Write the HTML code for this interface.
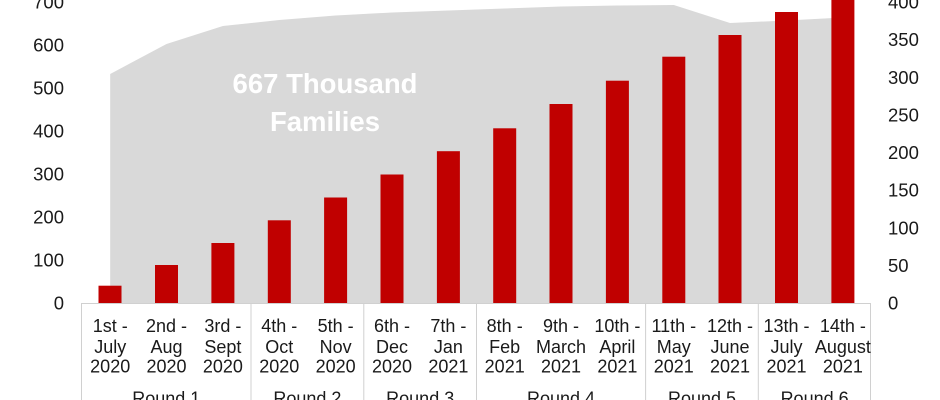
<!DOCTYPE html>
<html>
<head>
<meta charset="utf-8">
<style>
  html,body{margin:0;padding:0;background:#fff;}
  svg{display:block;}
  text{font-family:"Liberation Sans",Arial,sans-serif;fill:#1a1a1a;}
</style>
</head>
<body>
<svg width="940" height="400" viewBox="0 0 940 400" xmlns="http://www.w3.org/2000/svg">
  <!-- area -->
  <polygon fill="#d9d9d9" points="110.2,303.5 110.2,74 166.5,44 222.9,26 279.3,20 335.6,15.5 392,12.5 448.4,10.5 504.7,8.5 561,6.5 617.4,5.5 673.8,5 730,23 786.5,20.5 842.9,17.5 842.9,303.5"/>

  <!-- area label -->
  <text x="325" y="93" text-anchor="middle" style="font-weight:bold;font-size:27.5px;fill:#ffffff">667 Thousand</text>
  <text x="325" y="131" text-anchor="middle" style="font-weight:bold;font-size:27.5px;fill:#ffffff">Families</text>

  <!-- bars -->
  <g fill="#c00000">
    <rect x="98.5" y="285.7" width="23" height="17.8"/>
    <rect x="155" y="265" width="23" height="38.5"/>
    <rect x="211.4" y="243" width="23" height="60.5"/>
    <rect x="267.8" y="220.3" width="23" height="83.2"/>
    <rect x="324.1" y="197.5" width="23" height="106"/>
    <rect x="380.5" y="174.5" width="23" height="129"/>
    <rect x="436.9" y="151.2" width="23" height="152.3"/>
    <rect x="493.2" y="128.3" width="23" height="175.2"/>
    <rect x="549.5" y="104" width="23" height="199.5"/>
    <rect x="605.9" y="80.7" width="23" height="222.8"/>
    <rect x="662.3" y="56.7" width="23" height="246.8"/>
    <rect x="718.5" y="35" width="23" height="268.5"/>
    <rect x="775" y="12" width="23" height="291.5"/>
    <rect x="831.4" y="-2" width="23" height="305.5"/>
  </g>

  <!-- axis lines -->
  <g stroke="#d0d0d0" stroke-width="1">
    <line x1="81" y1="303.5" x2="871" y2="303.5"/>
    <line x1="81.5" y1="303.5" x2="81.5" y2="400"/>
    <line x1="251" y1="303.5" x2="251" y2="400"/>
    <line x1="363.8" y1="303.5" x2="363.8" y2="400"/>
    <line x1="476.5" y1="303.5" x2="476.5" y2="400"/>
    <line x1="645.6" y1="303.5" x2="645.6" y2="400"/>
    <line x1="758.3" y1="303.5" x2="758.3" y2="400"/>
    <line x1="870.5" y1="303.5" x2="870.5" y2="400"/>
  </g>

  <!-- left axis -->
  <g style="font-size:18.5px" text-anchor="end">
    <text x="64" y="309.6">0</text>
    <text x="64" y="266.6">100</text>
    <text x="64" y="223.6">200</text>
    <text x="64" y="180.6">300</text>
    <text x="64" y="137.6">400</text>
    <text x="64" y="94.6">500</text>
    <text x="64" y="51.6">600</text>
    <text x="64" y="8.6">700</text>
  </g>

  <!-- right axis -->
  <g style="font-size:18.5px" text-anchor="start">
    <text x="888" y="309.6">0</text>
    <text x="888" y="272">50</text>
    <text x="888" y="234.4">100</text>
    <text x="888" y="196.7">150</text>
    <text x="888" y="159.1">200</text>
    <text x="888" y="121.5">250</text>
    <text x="888" y="83.9">300</text>
    <text x="888" y="46.2">350</text>
    <text x="888" y="8.6">400</text>
  </g>

  <!-- category labels -->
  <g style="font-size:18px" text-anchor="middle">
    <text x="110.2" y="332">1st -</text><text x="110.2" y="353">July</text><text x="110.2" y="372.5">2020</text>
    <text x="166.5" y="332">2nd -</text><text x="166.5" y="353">Aug</text><text x="166.5" y="372.5">2020</text>
    <text x="222.9" y="332">3rd -</text><text x="222.9" y="353">Sept</text><text x="222.9" y="372.5">2020</text>
    <text x="279.3" y="332">4th -</text><text x="279.3" y="353">Oct</text><text x="279.3" y="372.5">2020</text>
    <text x="335.6" y="332">5th -</text><text x="335.6" y="353">Nov</text><text x="335.6" y="372.5">2020</text>
    <text x="392" y="332">6th -</text><text x="392" y="353">Dec</text><text x="392" y="372.5">2020</text>
    <text x="448.4" y="332">7th -</text><text x="448.4" y="353">Jan</text><text x="448.4" y="372.5">2021</text>
    <text x="504.7" y="332">8th -</text><text x="504.7" y="353">Feb</text><text x="504.7" y="372.5">2021</text>
    <text x="561" y="332">9th -</text><text x="561" y="353">March</text><text x="561" y="372.5">2021</text>
    <text x="617.4" y="332">10th -</text><text x="617.4" y="353">April</text><text x="617.4" y="372.5">2021</text>
    <text x="673.8" y="332">11th -</text><text x="673.8" y="353">May</text><text x="673.8" y="372.5">2021</text>
    <text x="730" y="332">12th -</text><text x="730" y="353">June</text><text x="730" y="372.5">2021</text>
    <text x="786.5" y="332">13th -</text><text x="786.5" y="353">July</text><text x="786.5" y="372.5">2021</text>
    <text x="842.9" y="332">14th -</text><text x="842.9" y="353">August</text><text x="842.9" y="372.5">2021</text>
  </g>

  <!-- round labels -->
  <g style="font-size:18px" text-anchor="middle">
    <text x="166.3" y="404.5">Round 1</text>
    <text x="307.4" y="404.5">Round 2</text>
    <text x="420.2" y="404.5">Round 3</text>
    <text x="561" y="404.5">Round 4</text>
    <text x="702" y="404.5">Round 5</text>
    <text x="814.6" y="404.5">Round 6</text>
  </g>
</svg>
</body>
</html>
